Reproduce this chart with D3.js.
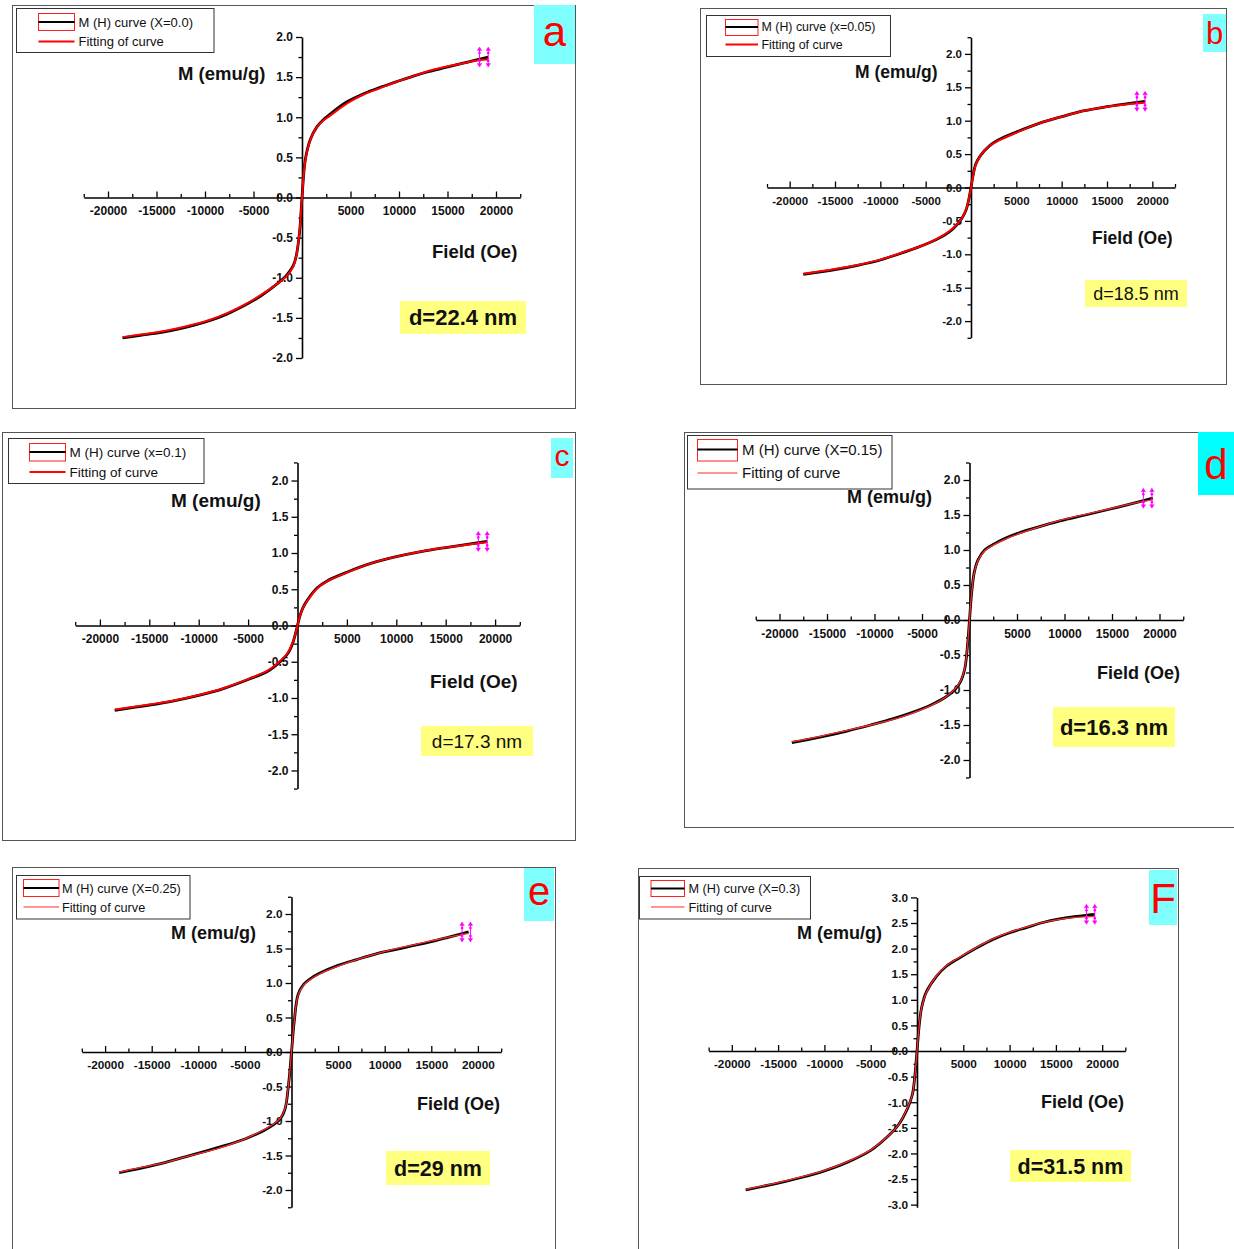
<!DOCTYPE html>
<html>
<head>
<meta charset="utf-8">
<title>M–H curves of the samples</title>
<script src="https://cdn.jsdelivr.net/npm/d3@7"></script>
<style>
  html, body { margin: 0; padding: 0; background: #fff; }
  svg { display: block; font-family: Arial, "Liberation Sans", sans-serif; }
</style>
</head>
<body>
<svg id="fig" width="1234" height="1249"></svg>
<script>
// ---- Measured M(H) data and fitted curves (field in Oe, M in emu/g) ----
const fieldA = [-18500, -16200, -14500, -12800, -11100, -9400, -7700, -6000, -4300, -2600, -1600, -900, -580, -240, 0, 340, 850, 1530, 2200, 2900, 4600, 6300, 8000, 9700, 11400, 13100, 14800, 16500, 18200, 19200];
const measA = [-1.75, -1.71, -1.68, -1.64, -1.59, -1.53, -1.45, -1.35, -1.23, -1.08, -0.97, -0.85, -0.72, -0.42, 0.0, 0.47, 0.72, 0.88, 0.97, 1.04, 1.19, 1.29, 1.37, 1.44, 1.51, 1.57, 1.62, 1.67, 1.72, 1.75];
const fitA  = [-1.74, -1.70, -1.67, -1.63, -1.58, -1.52, -1.44, -1.34, -1.22, -1.08, -0.98, -0.86, -0.72, -0.41, 0.0, 0.46, 0.71, 0.88, 0.96, 1.02, 1.17, 1.28, 1.36, 1.44, 1.51, 1.58, 1.63, 1.67, 1.71, 1.72];

const fieldB = [-18500, -15000, -12500, -10000, -7500, -5000, -3000, -2000, -1000, -500, -200, 0, 200, 500, 1000, 2000, 3000, 5000, 7500, 10000, 12500, 15000, 17500, 19200];
const measB = [-1.30, -1.23, -1.165, -1.085, -0.975, -0.85, -0.72, -0.62, -0.46, -0.32, -0.15, 0.0, 0.16, 0.34, 0.47, 0.62, 0.71, 0.83, 0.96, 1.06, 1.15, 1.21, 1.26, 1.29];
const fitB  = [-1.29, -1.22, -1.16, -1.08, -0.97, -0.85, -0.71, -0.61, -0.46, -0.31, -0.15, 0.0, 0.15, 0.33, 0.47, 0.62, 0.70, 0.82, 0.96, 1.06, 1.15, 1.21, 1.25, 1.27];

const fieldC = [-18500, -15000, -12500, -10000, -7500, -5000, -3000, -2000, -1000, -500, -200, 0, 200, 500, 1000, 2000, 3000, 5000, 7500, 10000, 12500, 15000, 17500, 19200];
const measC = [-1.17, -1.10, -1.04, -0.965, -0.87, -0.745, -0.63, -0.53, -0.39, -0.25, -0.11, 0.0, 0.11, 0.23, 0.35, 0.52, 0.615, 0.735, 0.86, 0.95, 1.02, 1.075, 1.125, 1.16];
const fitC  = [-1.16, -1.09, -1.035, -0.96, -0.865, -0.74, -0.62, -0.52, -0.38, -0.24, -0.11, 0.0, 0.11, 0.23, 0.34, 0.515, 0.61, 0.73, 0.86, 0.95, 1.02, 1.075, 1.12, 1.15];

const fieldD = [-18700, -16000, -13000, -10400, -8000, -6000, -4000, -2500, -1500, -900, -500, -200, 0, 200, 500, 900, 1600, 2500, 4000, 6000, 8000, 10000, 12200, 14500, 17000, 19300];
const measD = [-1.75, -1.68, -1.59, -1.50, -1.41, -1.32, -1.21, -1.10, -0.99, -0.87, -0.70, -0.35, 0.0, 0.35, 0.68, 0.86, 1.00, 1.08, 1.18, 1.28, 1.36, 1.43, 1.50, 1.575, 1.66, 1.74];
const fitD  = [-1.74, -1.67, -1.58, -1.50, -1.42, -1.33, -1.22, -1.10, -0.98, -0.86, -0.69, -0.35, 0.0, 0.35, 0.67, 0.85, 0.99, 1.07, 1.17, 1.27, 1.36, 1.44, 1.51, 1.58, 1.66, 1.72];

const fieldE = [-18500, -16000, -13500, -11400, -9000, -7000, -5000, -3000, -2000, -1200, -700, -300, 0, 300, 700, 1300, 2000, 3000, 5000, 7000, 9000, 11000, 13000, 15000, 17000, 19000];
const measE = [-1.75, -1.68, -1.60, -1.52, -1.43, -1.35, -1.26, -1.14, -1.06, -0.97, -0.83, -0.45, 0.0, 0.45, 0.83, 0.98, 1.06, 1.14, 1.255, 1.34, 1.42, 1.48, 1.54, 1.60, 1.67, 1.74];
const fitE  = [-1.74, -1.67, -1.60, -1.52, -1.44, -1.36, -1.26, -1.13, -1.05, -0.96, -0.82, -0.45, 0.0, 0.45, 0.82, 0.97, 1.05, 1.13, 1.245, 1.34, 1.42, 1.49, 1.55, 1.61, 1.67, 1.72];

const fieldF = [-18500, -15000, -12500, -10000, -7500, -5000, -3000, -2000, -1000, -500, -250, 0, 250, 500, 1000, 2100, 3200, 4600, 6400, 8200, 10000, 11800, 13600, 15400, 17200, 19200];
const measF = [-2.71, -2.58, -2.47, -2.34, -2.17, -1.94, -1.64, -1.44, -1.11, -0.85, -0.52, 0.0, 0.52, 0.85, 1.15, 1.46, 1.66, 1.82, 2.01, 2.18, 2.31, 2.41, 2.51, 2.58, 2.63, 2.67];
const fitF  = [-2.70, -2.57, -2.46, -2.33, -2.16, -1.93, -1.64, -1.44, -1.10, -0.85, -0.52, 0.0, 0.52, 0.85, 1.14, 1.47, 1.67, 1.83, 2.02, 2.19, 2.32, 2.42, 2.51, 2.57, 2.61, 2.63];

// Field positions of the two end-of-sweep markers
const markerField = [18300, 19200];

// ---- Tick values and labels ----
const xTickValues = [-20000, -15000, -10000, -5000, 5000, 10000, 15000, 20000];
const xTickLabels = ["-20000", "-15000", "-10000", "-5000", "5000", "10000", "15000", "20000"];
const xMinorValues = [-22500, -17500, -12500, -7500, -2500, 2500, 7500, 12500, 17500, 22500];
const yTickValues2 = [-2.0, -1.5, -1.0, -0.5, 0.0, 0.5, 1.0, 1.5, 2.0];
const yTickLabels2 = ["-2.0", "-1.5", "-1.0", "-0.5", "0.0", "0.5", "1.0", "1.5", "2.0"];
const yMinorValues2 = [-2.25, -1.75, -1.25, -0.75, -0.25, 0.25, 0.75, 1.25, 1.75, 2.25];
const yTickValues3 = [-3.0, -2.5, -2.0, -1.5, -1.0, -0.5, 0.0, 0.5, 1.0, 1.5, 2.0, 2.5, 3.0];
const yTickLabels3 = ["-3.0", "-2.5", "-2.0", "-1.5", "-1.0", "-0.5", "0.0", "0.5", "1.0", "1.5", "2.0", "2.5", "3.0"];
const yMinorValues3 = [-2.75, -2.25, -1.75, -1.25, -0.75, -0.25, 0.25, 0.75, 1.25, 1.75, 2.25, 2.75];

// ---- Texts ----
const seriesNames = ["M (H) curve (X=0.0)", "M (H) curve (x=0.05)", "M (H) curve (x=0.1)", "M (H) curve (X=0.15)", "M (H) curve (X=0.25)", "M (H) curve (X=0.3)"];
const fitName = "Fitting of curve";
const panelLetters = ["a", "b", "c", "d", "e", "F"];
const sizeLabels = ["d=22.4 nm", "d=18.5 nm", "d=17.3 nm", "d=16.3 nm", "d=29 nm", "d=31.5 nm"];

// ---- Panel layout (pixels) ----
const panels = [
  { H: fieldA, M: measA, F: fitA, name: seriesNames[0], letter: panelLetters[0], size: sizeLabels[0],
    frame: [12, 5, 575, 408], xr: [83.75, 520.25], yd: [-2, 2], yr: [358, 37],
    yt: yTickValues2, yl: yTickLabels2, ym: [-1.75, -1.25, -0.75, -0.25, 0.25, 0.75, 1.25, 1.75],
    leg: [16.5, 8.5, 214, 52.5], sw: [38.5, 13.5, 74.5, 30.5], l1: 22, l2: 41.5, tx: 78.5, lf: 13,
    lb: [534, 5, 575, 64], lc: "#80ffff", ls: 42, ylab: [178, 73], flab: [432, 251], af: 18.5,
    db: [400, 301, 526, 334], dbold: true, df: 22, fitW: 2.0, fitC: "#ff0000", tf: 12 },
  { H: fieldB, M: measB, F: fitB, name: seriesNames[1], letter: panelLetters[1], size: sizeLabels[1],
    frame: [700, 8, 1226, 384], xr: [767, 1175], yd: [-2.25, 2.25], yr: [337.8, 37.2],
    yt: yTickValues2, yl: yTickLabels2, ym: yMinorValues2,
    leg: [706.5, 15.5, 890.5, 56.5], sw: [725.5, 19.5, 758, 35.5], l1: 27, l2: 44.5, tx: 761.5, lf: 12.4,
    lb: [1203, 14, 1226, 52], lc: "#80ffff", ls: 31, ylab: [855, 72], flab: [1092, 238], af: 17.5,
    db: [1085, 280, 1187, 307], dbold: false, df: 18, fitW: 2.0, fitC: "#ff0000", tf: 11.5 },
  { H: fieldC, M: measC, F: fitC, name: seriesNames[2], letter: panelLetters[2], size: sizeLabels[2],
    frame: [2, 432, 575, 840], xr: [75.2, 519.8], yd: [-2.25, 2.25], yr: [788.6, 462.4],
    yt: yTickValues2, yl: yTickLabels2, ym: yMinorValues2,
    leg: [8.5, 438.5, 204, 483.5], sw: [29.5, 443.5, 65.5, 461], l1: 452, l2: 472, tx: 69.5, lf: 13.5,
    lb: [551, 438, 573, 478], lc: "#80ffff", ls: 30, ylab: [171, 500], flab: [430, 681], af: 19,
    db: [421, 726, 533, 756], dbold: false, df: 19, fitW: 2.0, fitC: "#ff0000", tf: 12 },
  { H: fieldD, M: measD, F: fitD, name: seriesNames[3], letter: panelLetters[3], size: sizeLabels[3],
    frame: [684, 432, 1240, 827], xr: [755.75, 1183.25], yd: [-2.25, 2.25], yr: [777.5, 462.5],
    yt: yTickValues2, yl: yTickLabels2, ym: yMinorValues2,
    leg: [687.5, 435.5, 892, 489], sw: [697.5, 439.5, 737.5, 461], l1: 449.5, l2: 473, tx: 742, lf: 15,
    lb: [1198, 432, 1234, 495], lc: "#00ffff", ls: 42, ylab: [847, 497], flab: [1097, 673], af: 18,
    db: [1053, 707, 1175, 747], dbold: true, df: 22, fitW: 1.3, fitC: "#ff2a2a", tf: 12 },
  { H: fieldE, M: measE, F: fitE, name: seriesNames[4], letter: panelLetters[4], size: sizeLabels[4],
    frame: [12, 867, 555, 1260], xr: [81.8, 501.2], yd: [-2.25, 2.25], yr: [1207.25, 896.75],
    yt: yTickValues2, yl: yTickLabels2, ym: yMinorValues2,
    leg: [16.5, 875.5, 190, 919], sw: [23.5, 879.5, 59, 896.5], l1: 888, l2: 907, tx: 62, lf: 12.7,
    lb: [524, 868, 554, 921], lc: "#80ffff", ls: 40, ylab: [171, 933], flab: [417, 1104], af: 18,
    db: [386, 1151, 490, 1185], dbold: true, df: 21.5, fitW: 1.3, fitC: "#ff2a2a", tf: 11.8 },
  { H: fieldF, M: measF, F: fitF, name: seriesNames[5], letter: panelLetters[5], size: sizeLabels[5],
    frame: [638, 868, 1178, 1260], xr: [708.65, 1125.35], yd: [-3.05, 3.0], yr: [1207.2, 897.4],
    yt: yTickValues3, yl: yTickLabels3, ym: yMinorValues3,
    leg: [639.5, 876.5, 810.5, 919], sw: [651, 880.5, 684.5, 896.5], l1: 888.5, l2: 907, tx: 688.5, lf: 12.7,
    lb: [1149, 870, 1177, 925], lc: "#80ffff", ls: 42, ylab: [797, 933], flab: [1041, 1102], af: 18,
    db: [1010, 1150, 1131, 1182], dbold: true, df: 21.5, fitW: 1.3, fitC: "#ff2a2a", tf: 11.8 }
];

const svg = d3.select("#fig");
const FONT = "Arial, 'Liberation Sans', sans-serif";

panels.forEach(p => {
  const g = svg.append("g");

  // Outer frame of the panel
  g.append("rect")
    .attr("x", p.frame[0] + 0.5).attr("y", p.frame[1] + 0.5)
    .attr("width", p.frame[2] - p.frame[0]).attr("height", p.frame[3] - p.frame[1])
    .attr("fill", "#fff").attr("stroke", "#555").attr("stroke-width", 1);

  const x = d3.scaleLinear().domain([-22500, 22500]).range(p.xr);
  const y = d3.scaleLinear().domain(p.yd).range(p.yr);
  const x0 = x(0), y0 = y(0);

  // Horizontal axis through M = 0, ticks pointing upward
  g.append("g").attr("transform", `translate(0,${y0})`)
    .call(d3.axisBottom(x).tickValues(xTickValues).tickSize(-6).tickSizeOuter(0).tickPadding(9)
      .tickFormat((d, i) => xTickLabels[i]));
  g.append("g").attr("transform", `translate(0,${y0})`)
    .call(d3.axisBottom(x).tickValues(xMinorValues).tickSize(-3.5).tickFormat(""))
    .call(s => s.select(".domain").remove());

  // Vertical axis through H = 0, ticks pointing left
  g.append("g").attr("transform", `translate(${x0},0)`)
    .call(d3.axisLeft(y).tickValues(p.yt).tickSize(6).tickSizeOuter(0).tickPadding(3)
      .tickFormat((d, i) => p.yl[i]));
  g.append("g").attr("transform", `translate(${x0},0)`)
    .call(d3.axisLeft(y).tickValues(p.ym).tickSize(3.5).tickFormat(""))
    .call(s => s.select(".domain").remove());

  g.selectAll(".domain").attr("stroke", "#000").attr("stroke-width", 1.6);
  g.selectAll(".tick line").attr("stroke", "#000").attr("stroke-width", 1.3);
  g.selectAll(".tick text").attr("fill", "#111").attr("font-family", FONT)
    .attr("font-weight", "bold").attr("font-size", p.tf);

  // Measured curve and its fit
  const line = d3.line().x(d => x(d[0])).y(d => y(d[1])).curve(d3.curveCatmullRom.alpha(0.5));
  const meas = p.H.map((h, i) => [h, p.M[i]]);
  const fit = p.H.map((h, i) => [h, p.F[i]]);
  g.append("path").datum(meas).attr("d", line)
    .attr("fill", "none").attr("stroke", "#000").attr("stroke-width", 2.8).attr("stroke-linejoin", "round");
  g.append("path").datum(fit).attr("d", line)
    .attr("fill", "none").attr("stroke", p.fitC).attr("stroke-width", p.fitW).attr("stroke-linejoin", "round");

  // End-of-sweep markers (vertical double arrows)
  const mEnd = p.M[p.M.length - 1];
  markerField.forEach(h => {
    const cx = x(h), cy = y(mEnd);
    const mk = g.append("g").attr("fill", "#ff00ff").attr("stroke", "#ff00ff");
    mk.append("line").attr("x1", cx).attr("x2", cx).attr("y1", cy - 9).attr("y2", cy + 9).attr("stroke-width", 1);
    mk.append("path").attr("d", `M${cx - 2.2},${cy - 6.5}L${cx},${cy - 10}L${cx + 2.2},${cy - 6.5}Z`).attr("stroke-width", 0.5);
    mk.append("path").attr("d", `M${cx - 2.2},${cy + 6.5}L${cx},${cy + 10}L${cx + 2.2},${cy + 6.5}Z`).attr("stroke-width", 0.5);
    mk.append("circle").attr("cx", cx).attr("cy", cy - 4).attr("r", 1.3).attr("stroke", "none");
    mk.append("circle").attr("cx", cx).attr("cy", cy + 4).attr("r", 1.3).attr("stroke", "none");
  });

  // Axis titles
  g.append("text").attr("x", p.ylab[0]).attr("y", p.ylab[1]).attr("dy", "0.36em")
    .attr("font-family", FONT).attr("font-weight", "bold").attr("font-size", p.af).attr("fill", "#111")
    .text("M (emu/g)");
  g.append("text").attr("x", p.flab[0]).attr("y", p.flab[1]).attr("dy", "0.36em")
    .attr("font-family", FONT).attr("font-weight", "bold").attr("font-size", p.af).attr("fill", "#111")
    .text("Field (Oe)");

  // Legend
  g.append("rect").attr("x", p.leg[0]).attr("y", p.leg[1])
    .attr("width", p.leg[2] - p.leg[0]).attr("height", p.leg[3] - p.leg[1])
    .attr("fill", "#fff").attr("stroke", "#333").attr("stroke-width", 1);
  g.append("rect").attr("x", p.sw[0]).attr("y", p.sw[1])
    .attr("width", p.sw[2] - p.sw[0]).attr("height", p.sw[3] - p.sw[1])
    .attr("fill", "#fff").attr("stroke", "#ff2020").attr("stroke-width", 1);
  g.append("line").attr("x1", p.sw[0]).attr("x2", p.sw[2]).attr("y1", p.l1).attr("y2", p.l1)
    .attr("stroke", "#000").attr("stroke-width", 2);
  g.append("line").attr("x1", p.sw[0]).attr("x2", p.sw[2]).attr("y1", p.l2).attr("y2", p.l2)
    .attr("stroke", p.fitC).attr("stroke-width", p.fitW >= 2 ? 1.8 : 1.2);
  g.append("text").attr("x", p.tx).attr("y", p.l1).attr("dy", "0.36em")
    .attr("font-family", FONT).attr("font-size", p.lf).attr("fill", "#111").text(p.name);
  g.append("text").attr("x", p.tx).attr("y", p.l2).attr("dy", "0.36em")
    .attr("font-family", FONT).attr("font-size", p.lf).attr("fill", "#111").text(fitName);

  // Panel letter on a cyan tag
  g.append("rect").attr("x", p.lb[0]).attr("y", p.lb[1])
    .attr("width", p.lb[2] - p.lb[0]).attr("height", p.lb[3] - p.lb[1]).attr("fill", p.lc);
  g.append("text").attr("x", (p.lb[0] + p.lb[2]) / 2).attr("y", (p.lb[1] + p.lb[3]) / 2)
    .attr("dy", p.letter === "F" || p.letter === "b" || p.letter === "d" ? "0.36em" : "0.27em")
    .attr("text-anchor", "middle").attr("font-family", FONT).attr("font-size", p.ls).attr("fill", "#ff0000")
    .text(p.letter);

  // Particle size tag
  g.append("rect").attr("x", p.db[0]).attr("y", p.db[1])
    .attr("width", p.db[2] - p.db[0]).attr("height", p.db[3] - p.db[1]).attr("fill", "#ffff80");
  g.append("text").attr("x", (p.db[0] + p.db[2]) / 2).attr("y", (p.db[1] + p.db[3]) / 2).attr("dy", "0.36em")
    .attr("text-anchor", "middle").attr("font-family", FONT).attr("font-size", p.df)
    .attr("font-weight", p.dbold ? "bold" : "normal").attr("fill", "#111")
    .text(p.size);
});
</script>
</body>
</html>
